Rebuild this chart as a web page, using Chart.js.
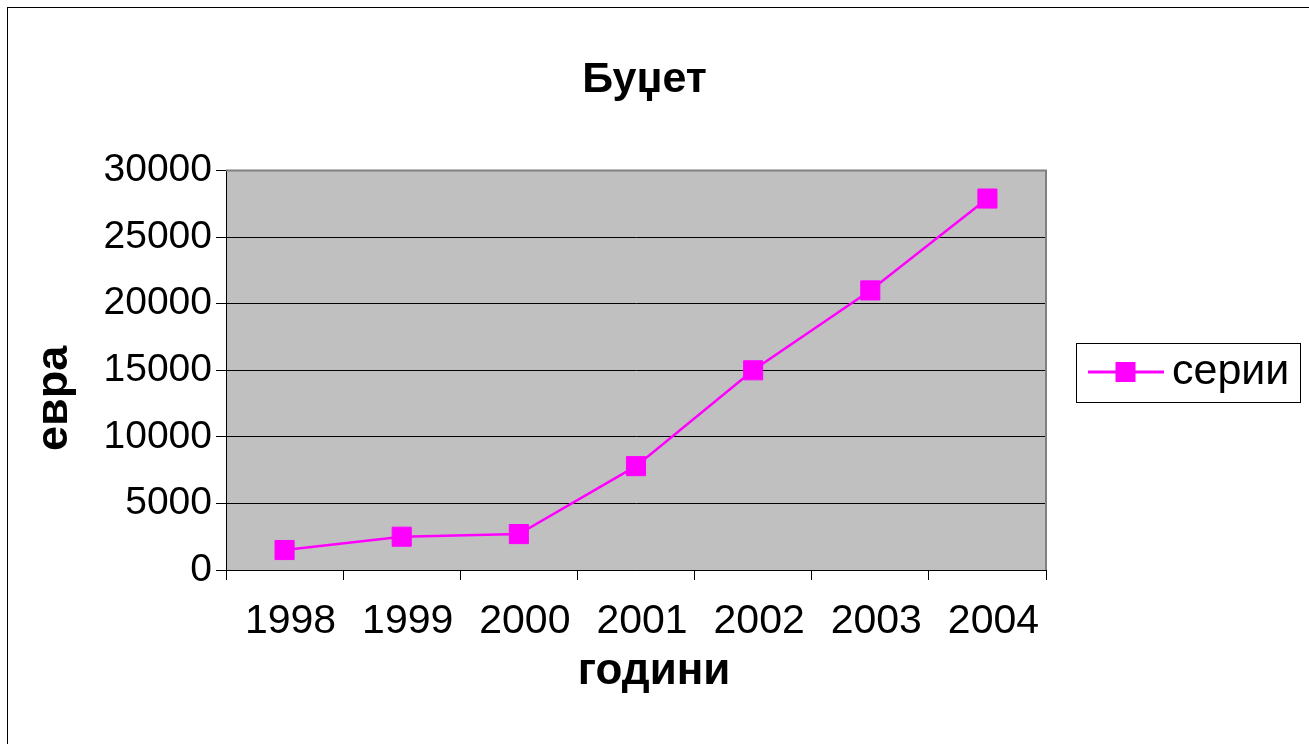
<!DOCTYPE html>
<html>
<head>
<meta charset="utf-8">
<script src="https://cdn.jsdelivr.net/npm/chart.js@4.4.1/dist/chart.umd.min.js"></script>
<style>
  html, body { margin: 0; padding: 0; background: #fff; overflow: hidden; }
  #wrap { position: absolute; left: 0; top: 0; width: 1309px; height: 744px; }
  #frame { position: absolute; left: 7px; top: 7px; width: 1400px; height: 800px;
           border-left: 1px solid #000; border-top: 1px solid #000; pointer-events: none; }
  canvas { position: absolute; left: 0; top: 0; }
</style>
</head>
<body>
<div id="wrap">
  <canvas id="c" width="1309" height="744"></canvas>
  <div id="frame"></div>
</div>
<script>
// ---- data ----
const chartTitle = 'Буџет';
const xAxisTitle = 'години';
const yAxisTitle = 'евра';
const seriesName = 'серии';
const categories = ['1998', '1999', '2000', '2001', '2002', '2003', '2004'];
const seriesValues = [1500, 2500, 2700, 7800, 15000, 21000, 27900];
const yTicks = [0, 5000, 10000, 15000, 20000, 25000, 30000];

const FONT = '"Liberation Sans", Arial, sans-serif';
const MAGENTA = '#FF00FF';

// legend symbol: line with square marker
const sym = document.createElement('canvas');
sym.width = 76; sym.height = 20;
(function () {
  const g = sym.getContext('2d');
  g.fillStyle = MAGENTA;
  g.fillRect(0, 8.5, 76, 3);
  g.fillRect(28, 0, 20, 20);
})();

const plotBg = {
  id: 'plotBg',
  beforeDraw(chart) {
    const { ctx, chartArea: a } = chart;
    ctx.save();
    ctx.fillStyle = '#C0C0C0';
    ctx.fillRect(a.left, a.top, a.right - a.left, a.bottom - a.top);
    ctx.restore();
  },
  beforeDatasetsDraw(chart) {
    const { ctx, chartArea: a } = chart;
    ctx.save();
    ctx.strokeStyle = '#808080';
    ctx.lineWidth = 2;
    ctx.beginPath();
    ctx.moveTo(a.left, a.top);
    ctx.lineTo(a.right, a.top);
    ctx.lineTo(a.right, a.bottom);
    ctx.stroke();
    ctx.restore();
  }
};

const extras = {
  id: 'extras',
  afterDraw(chart) {
    const { ctx, chartArea: a } = chart;
    ctx.save();
    ctx.fillStyle = '#000';
    ctx.textAlign = 'center';
    ctx.textBaseline = 'alphabetic';
    // x axis title
    ctx.font = 'bold 44px ' + FONT;
    ctx.fillText(xAxisTitle, (a.left + a.right) / 2 + 18, a.bottom + 114);
    // y axis title
    ctx.font = 'bold 45px ' + FONT;
    ctx.translate(a.left - 159, (a.top + a.bottom) / 2 + 28);
    ctx.rotate(-Math.PI / 2);
    ctx.fillText(yAxisTitle, 0, 0);
    ctx.restore();
    // legend border
    const lg = chart.legend;
    if (lg && lg.legendHitBoxes && lg.legendHitBoxes.length) {
      const hb = lg.legendHitBoxes[0];
      const cy = hb.top + hb.height / 2;
      ctx.save();
      ctx.strokeStyle = '#000';
      ctx.lineWidth = 1;
      ctx.strokeRect(Math.round(hb.left - 24.5) + 0.5, Math.round(cy - 29) + 0.5, 224, 59);
      ctx.restore();
    }
  }
};

new Chart(document.getElementById('c'), {
  type: 'line',
  data: {
    labels: categories,
    datasets: [{
      label: seriesName,
      data: seriesValues,
      borderColor: MAGENTA,
      backgroundColor: MAGENTA,
      borderWidth: 2.5,
      pointStyle: 'rect',
      pointRadius: 13.5,
      pointBorderWidth: 1,
      pointBorderColor: MAGENTA,
      pointBackgroundColor: MAGENTA,
      tension: 0,
      fill: false
    }]
  },
  options: {
    responsive: false,
    animation: false,
    events: [],
    layout: { padding: { left: 0, right: 20, top: 0, bottom: 0 } },
    plugins: {
      title: {
        display: true,
        text: chartTitle,
        color: '#000',
        font: { family: FONT, size: 43, weight: 'bold', lineHeight: 1.2 },
        padding: { top: 54, bottom: 65 }
      },
      legend: {
        display: true,
        position: 'right',
        maxWidth: 243,
        labels: {
          color: '#000',
          font: { family: FONT, size: 43 },
          usePointStyle: true,
          pointStyle: sym,
          pointStyleWidth: 50,
          padding: 54.5
        }
      },
      tooltip: { enabled: false }
    },
    scales: {
      x: {
        type: 'category',
        offset: true,
        grid: { display: true, drawOnChartArea: false, drawTicks: true, tickLength: 10, color: '#000', offset: true },
        border: { display: true, color: '#000', width: 1 },
        ticks: { color: '#000', font: { family: FONT, size: 41 }, padding: 17, labelOffset: 6, maxRotation: 0, autoSkip: false },
        afterFit(s) { s.height = 174; }
      },
      y: {
        min: 0,
        max: 30000,
        afterBuildTicks(s) { s.ticks = yTicks.map(v => ({ value: v })); },
        grid: { color: '#000', lineWidth: 1, tickLength: 10, drawTicks: true },
        border: { display: true, color: '#000', width: 1 },
        ticks: { color: '#000', font: { family: FONT, size: 39 }, padding: 4,
                 callback: v => String(v) },
        afterFit(s) { s.width = 226; }
      }
    }
  },
  plugins: [plotBg, extras]
});
</script>
</body>
</html>
